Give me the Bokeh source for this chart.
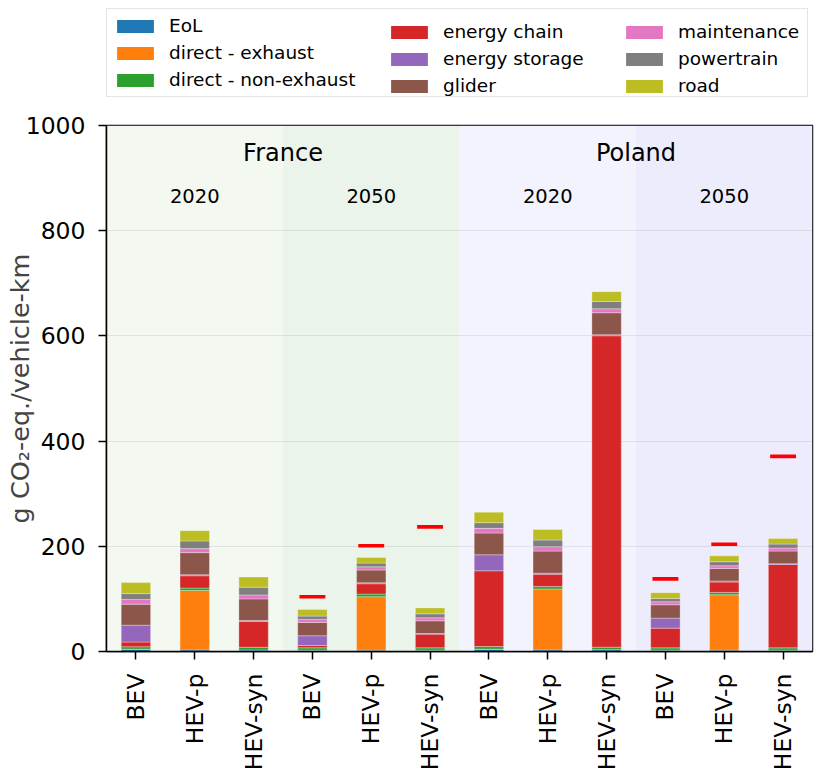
import math
from bokeh.plotting import figure
from bokeh.layouts import column
from bokeh.models import (ColumnDataSource, Range1d, FixedTicker, Legend, LegendItem)
from bokeh.core.properties import value
from bokeh.embed import file_html
from bokeh.resources import INLINE

FONT = "DejaVu Sans"

# --- data -------------------------------------------------------------
countries = ["France", "Poland"]
years = ["2020", "2050"]
vehicles = ["BEV", "HEV-p", "HEV-syn"]

# bar order: country -> year -> vehicle
components = ["EoL", "direct - exhaust", "direct - non-exhaust", "energy chain",
              "energy storage", "glider", "maintenance", "powertrain", "road"]
colors = ["#1f77b4", "#ff7f0e", "#2ca02c", "#d62728", "#9467bd",
          "#8c564b", "#e377c2", "#7f7f7f", "#bcbd22"]

eol = [4.5, 3.0, 3.0, 2.5, 2.5, 2.5, 4.4, 3.0, 3.5, 2.5, 2.5, 2.5]
direct_exhaust = [0, 113.0, 0, 0, 101.6, 0, 0, 116.0, 0, 0, 105.4, 0]
direct_non_exhaust = [4.5, 4.5, 5.0, 4.5, 5.0, 4.5, 5.0, 4.4, 4.7, 4.4, 4.4, 4.4]
energy_chain = [9.0, 23.5, 49.0, 4.5, 19.7, 26.0, 144.0, 23.5, 592.0, 37.5, 19.7, 158.7]
energy_storage = [32.0, 2.0, 2.0, 18.4, 2.0, 1.3, 30.5, 2.0, 2.0, 19.0, 2.0, 1.3]
glider = [40.0, 42.0, 41.0, 25.4, 24.0, 24.0, 41.3, 42.0, 41.8, 25.4, 24.0, 24.0]
maintenance = [9.0, 7.6, 7.6, 5.7, 6.3, 5.7, 8.9, 8.3, 7.6, 5.7, 5.0, 5.7]
powertrain = [11.0, 14.6, 14.6, 6.3, 7.0, 7.6, 10.8, 12.7, 13.9, 6.3, 7.6, 7.6]
road = [21.0, 19.5, 19.5, 12.5, 10.8, 11.2, 20.0, 20.0, 18.5, 11.0, 11.2, 10.5]

# reference values shown as red dashes (2050 scenarios only)
ref_index = [3, 4, 5, 9, 10, 11]
ref_value = [104, 201, 237, 138, 204, 371]

band_colors = ["#f3f8f1", "#eaf4ea", "#f3f3fd", "#ececfc"]

# --- derived layout ----------------------------------------------------
n_veh = len(vehicles)
labels = [v for _c in countries for _y in years for v in vehicles]
xs = list(range(len(labels)))

data = {"x": xs}
series = [eol, direct_exhaust, direct_non_exhaust, energy_chain, energy_storage,
          glider, maintenance, powertrain, road]
for name, vals in zip(components, series):
    data[name] = vals
source = ColumnDataSource(data)

LEG_H = 110
p = figure(width=817, height=776 - LEG_H, output_backend="svg", toolbar_location=None,
           x_range=Range1d(-0.5, len(labels) - 0.5), y_range=Range1d(0, 1000),
           min_border_left=106, min_border_right=5, min_border_top=125 - LEG_H,
           min_border_bottom=125)
p.background_fill_color = "white"
p.border_fill_color = "white"
p.outline_line_color = "black"
p.outline_line_width = 1.5

# shaded backgrounds for each country/year block
n_blocks = len(countries) * len(years)
band_left = [b * n_veh - 0.5 for b in range(n_blocks)]
band_right = [b * n_veh + n_veh - 0.5 for b in range(n_blocks)]
bands = p.quad(left=band_left, right=band_right, bottom=[0] * n_blocks,
               top=[1000] * n_blocks, fill_color=band_colors, line_color=None)
bands.level = "image"

p.vbar_stack(components, x="x", width=0.5, color=colors,
             line_color="white", line_alpha=0.3, line_width=1, source=source)

p.rect(x=ref_index, y=ref_value, width=0.44, height=3.6, height_units="screen",
       fill_color="#ff0000", line_color=None)

# group headings
country_x = [c * n_veh * len(years) + (n_veh * len(years) - 1) / 2 for c in range(len(countries))]
p.text(x=country_x, y=[947] * len(countries), text=countries,
       text_font=value(FONT), text_font_size="24px", text_align="center",
       text_baseline="middle", text_color="black")
year_x = [b * n_veh + (n_veh - 1) / 2 for b in range(n_blocks)]
year_text = [y for _c in countries for y in years]
p.text(x=year_x, y=[866] * n_blocks, text=year_text,
       text_font=value(FONT), text_font_size="19.5px", text_align="center",
       text_baseline="middle", text_color="black")

# axes
yticks = [0, 200, 400, 600, 800, 1000]
p.xgrid.visible = False
p.ygrid.grid_line_color = "#000000"
p.ygrid.grid_line_alpha = 0.08
p.ygrid.ticker = FixedTicker(ticks=yticks)

p.yaxis.ticker = FixedTicker(ticks=yticks)
p.yaxis.axis_label = "g CO\u2082-eq./vehicle-km"
p.yaxis.axis_label_text_font = FONT
p.yaxis.axis_label_text_font_style = "normal"
p.yaxis.axis_label_text_font_size = "25.5px"
p.yaxis.axis_label_standoff = -12
p.xaxis.ticker = FixedTicker(ticks=xs)
p.xaxis.major_label_overrides = {i: lab for i, lab in zip(xs, labels)}
p.xaxis.major_label_orientation = math.pi / 2
for ax in (p.xaxis, p.yaxis):
    ax.major_label_text_font = FONT
    ax.major_label_text_font_size = "23.5px"
    ax.major_label_text_color = "black"
    ax.axis_line_color = "black"
    ax.axis_line_width = 1.5
    ax.major_tick_line_color = "black"
    ax.major_tick_line_width = 1.5
    ax.major_tick_out = 8
    ax.major_tick_in = 0
    ax.minor_tick_line_color = None
p.yaxis.major_label_standoff = 13
p.xaxis.major_label_standoff = 14

# legend strip above the chart: three columns, the first one carries the frame
lg = figure(width=817, height=LEG_H, output_backend="svg", toolbar_location=None,
            x_range=Range1d(0, 1), y_range=Range1d(0, 1), min_border=0,
            x_axis_location=None, y_axis_location=None)
lg.outline_line_color = None
lg.grid.visible = False
# zero-height bars: they only lend their colour to the legend swatches
swatches = [lg.vbar(x=[0.5], top=[0], bottom=[0], width=0.1,
                    fill_color=c, line_color=None) for c in colors]

PAD = 5
cols = [(0, 3, 0), (3, 6, 280), (6, 9, 515)]
for k, (a, b, vx) in enumerate(cols):
    items = [LegendItem(label=components[i], renderers=[swatches[i]]) for i in range(a, b)]
    leg = Legend(items=items, location=(vx, 13), orientation="vertical",
                 margin=0, padding=PAD, spacing=4, glyph_width=46, glyph_height=16,
                 label_height=23, label_standoff=11,
                 label_text_font=FONT, label_text_font_size="18.5px",
                 label_text_color="black")
    if k == 0:
        leg.label_width = 700 - 2 * PAD - 46 - 11
        leg.border_line_color = "#cccccc"
        leg.border_line_width = 1.2
        leg.background_fill_color = "white"
        leg.background_fill_alpha = 0.8
    else:
        leg.label_width = 20
        leg.border_line_color = None
        leg.background_fill_alpha = 0
    lg.add_layout(leg, "center")

layout = column(lg, p, spacing=0)
open("out.html", "w").write(file_html(layout, INLINE))
